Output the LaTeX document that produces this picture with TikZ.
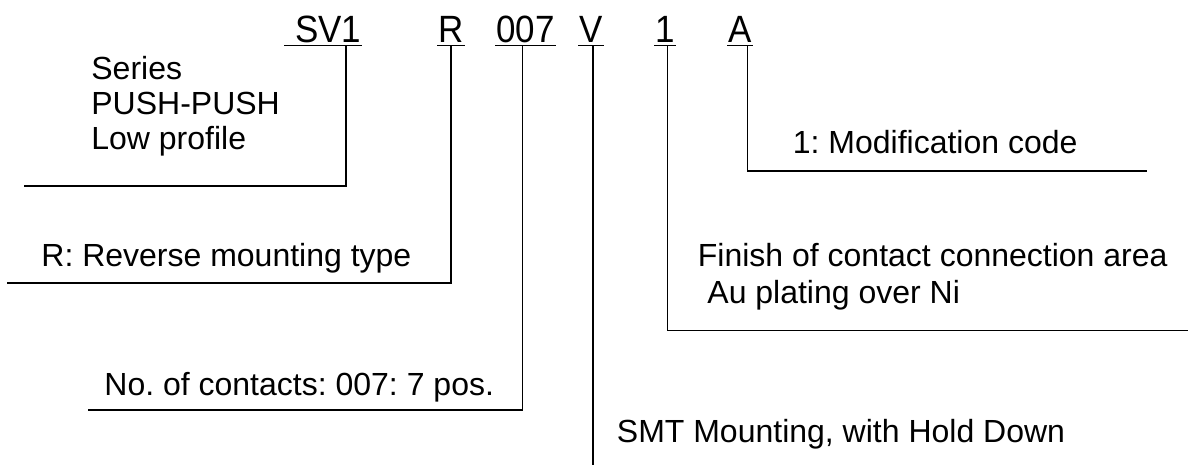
\documentclass[tikz,border=0pt]{standalone}
\usepackage{fontspec}
\setmainfont{Liberation Sans}
\usepackage{graphicx}
\usepackage{tikz}
\usetikzlibrary{positioning}
\frenchspacing
\newcommand{\narrow}[1]{\scalebox{0.92}[1]{#1}}
\tikzset{
code/.style={inner sep=0pt, anchor=base west, font=\fontsize{19}{23}\selectfont}, % letters of the part number
note/.style={inner sep=0pt, anchor=base west, font=\fontsize{16}{19}\selectfont}, % explanation texts
lead/.style={line width=0.8pt, line cap=rect}, % leader lines and underlines
}
\begin{document}
\begin{tikzpicture}[x=0.5pt, y=-0.5pt]
            \useasboundingbox (0,0) rectangle (1188,465);
            % part number
            \node[code] (sv) at (285,42.5) {\narrow{\ SV1}};
            \node[code] (r) at (438,42.5) {\narrow{R}};
            \node[code] (num) at (496,42.5) {\narrow{007}};
            \node[code] (v) at (579,42.5) {\narrow{V}};
            \node[code] (fin) at (655,42.5) {\narrow{1}};
            \node[code] (mod) at (728,42.5) {\narrow{A}};
            % explanations
            \node[note] (series) at (91,80) {Series};
            \node[note] (push) at (91,114.5) {PUSH-PUSH};
            \node[note] (low) at (91,149) {Low profile};
            \node[note] (rev) at (41,266.7) {R: Reverse mounting type};
            \node[note] (cont) at (104,395) {No. of contacts: 007: 7 pos.};
            \node[note] (smt) at (616.5,442.7) {SMT Mounting, with Hold Down};
            \node[note] (finish) at (697.5,266.7) {Finish of contact connection area};
            \node[note] (plating) at (707,303.3) {Au plating over Ni};
            \node[note] (modif) at (792.5,153.5) {1: Modification code};
            % free ends of the leaders
            \coordinate (svend) at (25,186);
            \coordinate (rend) at (8,283);
            \coordinate (numend) at (89,410);
            \coordinate (vend) at (593,465);
            \coordinate (finend) at (1188,330.5);
            \coordinate (modend) at (1146,170.7);
            \draw[lead]
                ([yshift=-1.5pt]sv.base west) -- ([yshift=-1.5pt]sv.base east)
                ([yshift=-1.5pt]r.base west) -- ([yshift=-1.5pt]r.base east)
                ([yshift=-1.5pt]num.base west) -- ([yshift=-1.5pt]num.base east)
                ([yshift=-1.5pt]v.base west) -- ([yshift=-1.5pt]v.base east)
                ([yshift=-1.5pt]fin.base west) -- ([yshift=-1.5pt]fin.base east)
                ([yshift=-1.5pt]mod.base west) -- ([yshift=-1.5pt]mod.base east)
                ;
            \draw[lead]
                ([xshift=30.5pt, yshift=-1.5pt]sv.base west) |- (svend)
                ([yshift=-1.5pt]r.base) |- (rend)
                ([xshift=-1.5pt, yshift=-1.5pt]num.base) |- (numend)
                ([yshift=-1.5pt]v.base -| vend) -- (vend)
                ([xshift=1.2pt, yshift=-1.5pt]fin.base) |- (finend)
                ([xshift=3.7pt, yshift=-1.5pt]mod.base) |- (modend)
                ;
\end{tikzpicture}
\end{document}
